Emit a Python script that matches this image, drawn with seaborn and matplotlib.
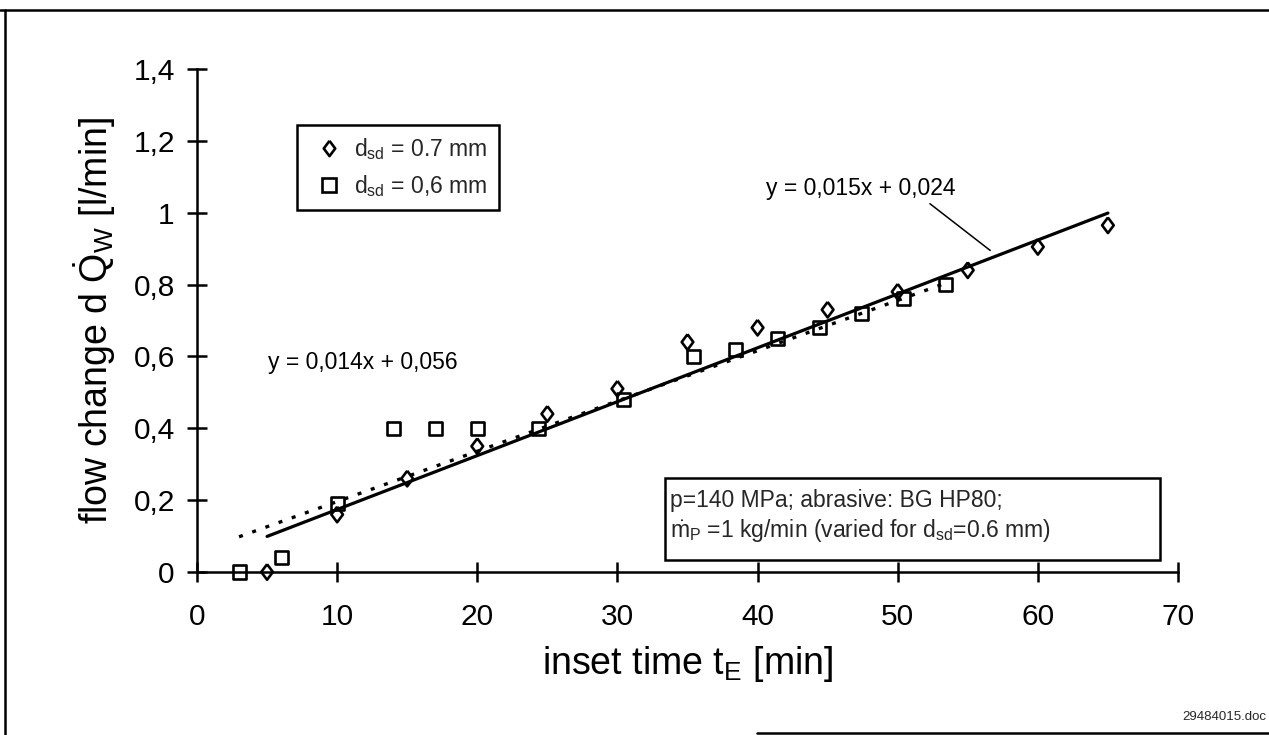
import matplotlib
matplotlib.use("Agg")
import matplotlib.pyplot as plt
import seaborn as sns
import pandas as pd
from matplotlib.lines import Line2D
from matplotlib.patches import Rectangle

# Measured flow change for the two nozzle diameters
t_07 = [5, 10, 15, 20, 25, 30, 35, 40, 45, 50, 55, 60, 65]
q_07 = [0.0, 0.16, 0.26, 0.35, 0.44, 0.51, 0.64, 0.68, 0.73, 0.78, 0.84, 0.905, 0.965]

t_06 = [3, 6, 10, 14, 17, 20, 24.4, 30.4, 35.4, 38.4, 41.4, 44.4, 47.4, 50.4, 53.4]
q_06 = [0.0, 0.04, 0.19, 0.40, 0.40, 0.40, 0.40, 0.48, 0.60, 0.62, 0.65, 0.68, 0.72, 0.76, 0.80]

# Linear trend lines (slope, intercept, x range)
fit_07 = (0.015, 0.024)
fit_07_range = [5, 65]
fit_06 = (0.014, 0.056)
fit_06_range = [3, 53.4]

x_ticks = [0, 10, 20, 30, 40, 50, 60, 70]
y_ticks = [0, 0.2, 0.4, 0.6, 0.8, 1.0, 1.2, 1.4]
y_tick_labels = ["0", "0,2", "0,4", "0,6", "0,8", "1", "1,2", "1,4"]

label_07 = r"d$_{\mathrm{sd}}$ = 0.7 mm"
label_06 = r"d$_{\mathrm{sd}}$ = 0,6 mm"
eq_07 = "y = 0,015x + 0,024"
eq_06 = "y = 0,014x + 0,056"
cond_1 = "p=140 MPa; abrasive: BG HP80;"
cond_2 = r"$\dot{\mathrm{m}}_{\mathrm{P}}$ =1 kg/min (varied for d$_{\mathrm{sd}}$=0.6 mm)"
doc_id = "29484015.doc"

sns.set_theme(style="white")
plt.rcParams["font.family"] = ["Liberation Sans", "DejaVu Sans"]
plt.rcParams["mathtext.fontset"] = "custom"
plt.rcParams["mathtext.rm"] = "Liberation Sans"
plt.rcParams["mathtext.it"] = "Liberation Sans:italic"
plt.rcParams["mathtext.bf"] = "Liberation Sans:bold"

W, H = 1269, 735
fig = plt.figure(figsize=(W / 100, H / 100), dpi=100)
fig.patch.set_facecolor("white")

x0_px, x1_px, y0_px, y1_px = 197, 1178, 572, 69
ax = fig.add_axes([x0_px / W, 1 - y0_px / H, (x1_px - x0_px) / W, (y0_px - y1_px) / H])
ax.set_facecolor("white")

diamond = [(0, 1), (0.75, 0), (0, -1), (-0.75, 0), (0, 1)]

df07 = pd.DataFrame({"t": t_07, "q": q_07})
df06 = pd.DataFrame({"t": t_06, "q": q_06})

# trend lines
lx07 = fit_07_range
ly07 = [fit_07[0] * v + fit_07[1] for v in lx07]
lx06 = fit_06_range
ly06 = [fit_06[0] * v + fit_06[1] for v in lx06]
sns.lineplot(x=lx07, y=ly07, ax=ax, color="black", lw=2.3, zorder=2)
sns.lineplot(x=lx06, y=ly06, ax=ax, color="black", lw=2.4,
             linestyle=(0, (1.2, 3.0)), zorder=2)

sns.scatterplot(data=df07, x="t", y="q", ax=ax, marker=diamond, s=125,
                facecolor="none", edgecolor="black", linewidth=1.9,
                clip_on=False, zorder=3)
sns.scatterplot(data=df06, x="t", y="q", ax=ax, marker="s", s=88,
                facecolor="none", edgecolor="black", linewidth=1.9,
                clip_on=False, zorder=3)

ax.set_xlim(0, 70)
ax.set_ylim(0, 1.4)
ax.set_xticks(x_ticks)
ax.set_xticklabels([str(v) for v in x_ticks])
ax.set_yticks(y_ticks)
ax.set_yticklabels(y_tick_labels)

for side in ["top", "right"]:
    ax.spines[side].set_visible(False)
for side in ["left", "bottom"]:
    ax.spines[side].set_color("black")
    ax.spines[side].set_linewidth(1.8)

ax.tick_params(axis="both", which="major", direction="inout", length=14, width=1.8,
               colors="black", labelsize=21.5, left=True, bottom=True)
ax.tick_params(axis="x", pad=15)
ax.tick_params(axis="y", pad=9)

ax.set_xlabel(r"inset time t$_{\mathrm{E}}$ [min]", fontsize=27, labelpad=10, color="black")
ax.set_ylabel(r"flow change d $\dot{\mathrm{Q}}_{\mathrm{W}}$ [l/min]", fontsize=27,
              labelpad=11, color="black")

# legend
handles = [
    Line2D([], [], linestyle="none", marker=diamond, markersize=11,
           markerfacecolor="none", markeredgecolor="black", markeredgewidth=1.9),
    Line2D([], [], linestyle="none", marker="s", markersize=9.4,
           markerfacecolor="none", markeredgecolor="black", markeredgewidth=1.9),
]
leg = ax.legend(handles, [label_07, label_06], loc="upper left",
                bbox_to_anchor=(297 / W, 1 - 125 / H), bbox_transform=fig.transFigure,
                borderaxespad=0, fontsize=16.5, frameon=True, fancybox=False,
                edgecolor="black", framealpha=1, borderpad=0.5, handlelength=1.8,
                handletextpad=0.2, labelspacing=0.45)
leg.get_frame().set_linewidth(1.8)

# trend equations
ax.text(5.1, 0.582, eq_06, fontsize=16.5, ha="left", va="center", color="black")
ax.text(40.6, 1.067, eq_07, fontsize=16.5, ha="left", va="center", color="black")
ax.add_line(Line2D([52.3, 56.6], [1.025, 0.895], color="black", lw=1.1))

# test conditions box
fig.add_artist(Rectangle((665 / W, 1 - 560 / H), (1160 - 665) / W, (560 - 478) / H,
                         transform=fig.transFigure, facecolor="white",
                         edgecolor="black", lw=1.8, zorder=5))
fig.text(670 / W, 1 - 500 / H, cond_1, fontsize=16.5, ha="left", va="center", zorder=6)
fig.text(670 / W, 1 - 531 / H, cond_2, fontsize=16.5, ha="left", va="center", zorder=6)

fig.text(1266 / W, 1 - 717 / H, doc_id, fontsize=9.5, ha="right", va="center")

# page frame
fig.add_artist(Line2D([0, 1], [1 - 10 / H, 1 - 10 / H], transform=fig.transFigure,
                      color="black", lw=1.8))
fig.add_artist(Line2D([5 / W, 5 / W], [0, 1 - 10 / H], transform=fig.transFigure,
                      color="black", lw=1.8))
fig.add_artist(Line2D([757 / W, 1], [1 - 733 / H, 1 - 733 / H], transform=fig.transFigure,
                      color="black", lw=1.8))

fig.savefig("out.png", dpi=100, facecolor="white")
